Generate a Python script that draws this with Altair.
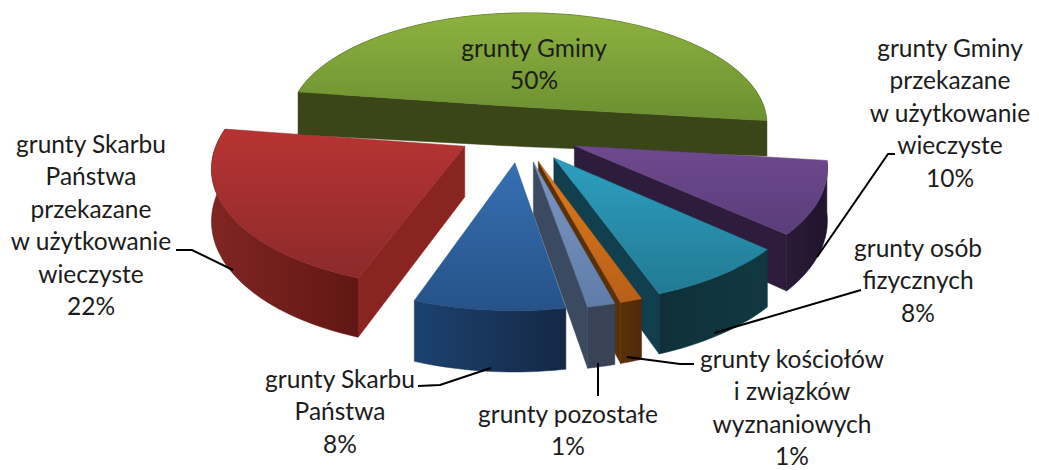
import math
import pandas as pd
import altair as alt

# ---- data ----
categories = ["grunty Gminy", "grunty Gminy przekazane w użytkowanie wieczyste",
              "grunty osób fizycznych", "grunty kościołów i związków wyznaniowych",
              "grunty pozostałe", "grunty Skarbu Państwa",
              "grunty Skarbu Państwa przekazane w użytkowanie wieczyste"]
shares = [49.6, 9.7, 7.9, 1.2, 1.5, 8.2, 21.9]

# ---- style: (top start, top end, side wall, outer wall left, outer wall right) ----
palette = [
    ("#8DB23F", "#6C8F31", "#3A4618", "#3A4618", "#3A4618"),
    ("#70498F", "#5A3D7A", "#2D1C3C", "#2A1A38", "#21142C"),
    ("#2E9FC0", "#217A94", "#123F4E", "#0F3039", "#113841"),
    ("#DD7D1C", "#B85F18", "#5A3008", "#5A3008", "#4F2A08"),
    ("#7E97C6", "#5F7CA8", "#3B4A60", "#384358", "#384358"),
    ("#3570B2", "#265288", "#1A3456", "#1C4270", "#152845"),
    ("#B83333", "#8C2A2A", "#8A2421", "#802522", "#611714"),
]
depth_scale = [0.82, 1, 1, 1, 1, 1, 1]
depth_tilt = [0.12, 0, 0, 0, 0, 0, 0]
explode = [0.24, 0.24, 0.24, 0.24, 0.24, 0.24, 0.245]
explode_turn = [0, 0, 0, 0, 0, 0, 6]

# ---- pie camera ----
START = -81.6
CX, CY, R, K, P, H = 520.0, 134.0, 245.0, 116.0, 0.15, 50.0

X = alt.X("px:Q", scale=alt.Scale(domain=[8, 1031], nice=False, zero=False), axis=None)
Y = alt.Y("py:Q", scale=alt.Scale(domain=[470, 8], nice=False, zero=False), axis=None)


def project(wx, wz):
    w = 1 + P * wz
    return CX + R * wx / w, CY - K * wz / w, w


def polygon(points, top, bottom=None, horizontal=False):
    df = pd.DataFrame(points, columns=["px", "py"])
    df["i"] = range(len(df))
    if bottom is None:
        bottom = top
    grad = alt.LinearGradient(
        gradient="linear",
        stops=[alt.GradientStop(color=top, offset=0), alt.GradientStop(color=bottom, offset=1)],
        x1=0, x2=1 if horizontal else 0, y1=0, y2=0 if horizontal else 1)
    return alt.Chart(df).mark_line(
        interpolate="linear-closed", fill=grad, stroke=bottom, strokeWidth=0.5, clip=False
    ).encode(x=X, y=Y, order="i:Q")


layers = []
angle = START
for share, pal, ds, tilt, e, turn in zip(shares, palette, depth_scale, depth_tilt, explode, explode_turn):
    a0, a1 = angle, angle + share * 3.6
    angle = a1
    mid = math.radians((a0 + a1) / 2 + turn)
    ox, oz = e * math.sin(mid), e * math.cos(mid)
    n = max(6, int(share * 3))
    arc3 = []
    for j in range(n + 1):
        t = math.radians(a0 + (a1 - a0) * j / n)
        arc3.append(project(ox + math.sin(t), oz + math.cos(t)))
    ax, ay, aw = project(ox, oz)

    def d(x, w):
        return H * ds / w * (1 - tilt * (x - CX) / R)

    top = [(ax, ay)] + [(x, y) for x, y, _ in arc3]
    mx, my = arc3[n // 2][:2]
    visible = []
    for (px, py, pw) in (arc3[0], arc3[-1]):
        ex, ey = px - ax, py - ay
        if ex * (ex * (my - ay) - ey * (mx - ax)) < 0:
            visible.append((px, py, pw))
    apex_low = (ax, ay + d(ax, aw))
    if len(visible) == 2:
        (x0, y0, w0), (x1, y1, w1) = visible
        layers.append(polygon([(x0, y0), (ax, ay), (x1, y1), (x1, y1 + d(x1, w1)),
                               apex_low, (x0, y0 + d(x0, w0))], pal[2]))
    else:
        for px, py, pw in visible:
            layers.append(polygon([(ax, ay), (px, py), (px, py + d(px, pw)), apex_low], pal[2]))
    wall = [(x, y) for x, y, _ in arc3] + [(x, y + d(x, w)) for x, y, w in reversed(arc3)]
    layers.append(polygon(wall, pal[3], pal[4], horizontal=True))
    layers.append(polygon(top, pal[0], pal[1]))

# ---- leader lines ----
leaders = [
    [(176, 250), (192, 250), (233, 270)],
    [(895, 154), (888, 154), (817, 257)],
    [(861, 290), (714, 333)],
    [(694, 364), (680, 364), (627, 357)],
    [(598, 363), (598, 396)],
    [(418, 386), (440, 385), (491, 368)],
]
for leader in leaders:
    df = pd.DataFrame(leader, columns=["px", "py"])
    df["i"] = range(len(df))
    layers.append(alt.Chart(df).mark_line(color="#000000", strokeWidth=2).encode(x=X, y=Y, order="i:Q"))

# ---- labels ----
label_lines = [
    ["grunty Gminy", "50%"],
    ["grunty Gminy", "przekazane", "w użytkowanie", "wieczyste", "10%"],
    ["grunty osób", "fizycznych", "8%"],
    ["grunty kościołów", "i związków", "wyznaniowych", "1%"],
    ["grunty pozostałe", "1%"],
    ["grunty Skarbu", "Państwa", "8%"],
    ["grunty Skarbu", "Państwa", "przekazane", "w użytkowanie", "wieczyste", "22%"],
]
label_anchor = [(534, 50), (950, 50), (918, 250), (792, 361), (568, 416), (340, 381), (91, 146)]
rows = []
for lines, (lx, ly) in zip(label_lines, label_anchor):
    for k, line in enumerate(lines):
        rows.append({"px": lx, "py": ly + k * 32.4, "t": line})
layers.append(alt.Chart(pd.DataFrame(rows)).mark_text(
    font="Lato", fontSize=24.5, color="#1c1c1c", align="center", baseline="middle"
).encode(x=X, y=Y, text="t:N"))

chart = alt.layer(*layers).properties(width=1023, height=462, padding=0, autosize="none").configure_view(strokeWidth=0)
chart.save("out.html", embed_options={"renderer": "svg", "actions": False})
